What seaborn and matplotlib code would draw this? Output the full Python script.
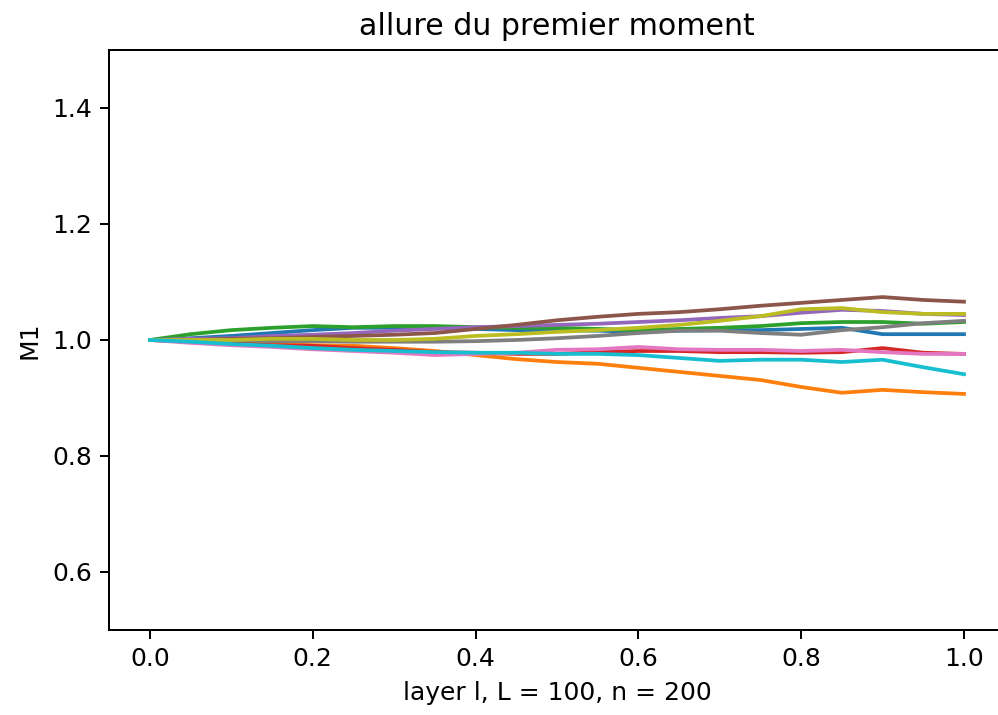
import numpy as np
import pandas as pd
import matplotlib
matplotlib.use("Agg")
import matplotlib.pyplot as plt
import seaborn as sns

# layer position l / L, read every 0.05
layer = [0.00, 0.05, 0.10, 0.15, 0.20, 0.25, 0.30, 0.35, 0.40, 0.45, 0.50,
         0.55, 0.60, 0.65, 0.70, 0.75, 0.80, 0.85, 0.90, 0.95, 1.00]

# first moment M1 for the 10 runs
m1_run0 = [1.000, 1.003, 1.007, 1.012, 1.017, 1.021, 1.021, 1.021, 1.019, 1.017, 1.017,
           1.016, 1.014, 1.016, 1.017, 1.017, 1.019, 1.021, 1.010, 1.010, 1.010]
m1_run1 = [1.000, 0.997, 0.995, 0.993, 0.991, 0.990, 0.986, 0.981, 0.974, 0.967, 0.962,
           0.959, 0.952, 0.945, 0.938, 0.931, 0.919, 0.909, 0.914, 0.910, 0.907]
m1_run2 = [1.000, 1.010, 1.017, 1.021, 1.024, 1.022, 1.024, 1.024, 1.022, 1.021, 1.021,
           1.019, 1.017, 1.019, 1.021, 1.024, 1.029, 1.031, 1.031, 1.028, 1.031]
m1_run3 = [1.000, 0.997, 0.995, 0.991, 0.990, 0.986, 0.983, 0.979, 0.978, 0.976, 0.976,
           0.979, 0.981, 0.981, 0.979, 0.979, 0.978, 0.979, 0.986, 0.978, 0.976]
m1_run4 = [1.000, 1.002, 1.003, 1.007, 1.009, 1.012, 1.016, 1.019, 1.022, 1.024, 1.026,
           1.028, 1.031, 1.034, 1.038, 1.041, 1.047, 1.052, 1.050, 1.045, 1.043]
m1_run5 = [1.000, 1.000, 1.002, 1.003, 1.005, 1.007, 1.009, 1.012, 1.019, 1.026, 1.034,
           1.040, 1.045, 1.048, 1.053, 1.059, 1.064, 1.069, 1.074, 1.069, 1.066]
m1_run6 = [1.000, 0.995, 0.991, 0.988, 0.984, 0.981, 0.978, 0.974, 0.976, 0.978, 0.983,
           0.984, 0.988, 0.984, 0.983, 0.983, 0.981, 0.983, 0.979, 0.976, 0.976]
m1_run7 = [1.000, 1.000, 1.000, 0.998, 0.998, 0.997, 0.997, 0.997, 0.998, 1.000, 1.003,
           1.007, 1.012, 1.016, 1.016, 1.012, 1.009, 1.017, 1.022, 1.029, 1.033]
m1_run8 = [1.000, 1.000, 1.000, 1.002, 1.002, 1.000, 1.000, 1.002, 1.007, 1.010, 1.014,
           1.017, 1.021, 1.026, 1.033, 1.041, 1.053, 1.055, 1.048, 1.045, 1.045]
m1_run9 = [1.000, 0.997, 0.993, 0.990, 0.986, 0.983, 0.981, 0.979, 0.978, 0.978, 0.976,
           0.976, 0.974, 0.969, 0.964, 0.966, 0.966, 0.962, 0.966, 0.953, 0.941]

runs = [m1_run0, m1_run1, m1_run2, m1_run3, m1_run4,
        m1_run5, m1_run6, m1_run7, m1_run8, m1_run9]

df = pd.concat(
    [pd.DataFrame({"l": layer, "M1": vals, "run": i}) for i, vals in enumerate(runs)],
    ignore_index=True,
)

# matplotlib default look, scaled up ~1.8x
s = 1.8
plt.rcParams.update({
    "font.family": ["DejaVu Sans"],
    "font.size": 10 * s,
    "lines.linewidth": 1.5 * s,
    "axes.linewidth": 0.8 * s,
    "axes.titlepad": 6 * s,
    "axes.labelpad": 4 * s,
    "xtick.major.size": 3.5 * s,
    "ytick.major.size": 3.5 * s,
    "xtick.major.width": 0.8 * s,
    "ytick.major.width": 0.8 * s,
    "xtick.major.pad": 3.5 * s,
    "ytick.major.pad": 3.5 * s,
})

fig = plt.figure(figsize=(9.98, 7.15), dpi=100)
# right edge of the axes runs past the picture, as in the cropped original
ax = fig.add_axes([0.1095, 0.1189, 0.8972, 0.8112])

sns.lineplot(data=df, x="l", y="M1", hue="run", palette="tab10",
             legend=False, ax=ax, estimator=None)

ax.set_xlim(-0.05, 1.05)
ax.set_ylim(0.5, 1.5)
ax.set_yticks([0.6, 0.8, 1.0, 1.2, 1.4])
ax.set_xticks([0.0, 0.2, 0.4, 0.6, 0.8, 1.0])
ax.spines["right"].set_visible(False)
ax.set_title("allure du premier moment")
ax.set_xlabel("layer l, L = 100, n = 200")
ax.set_ylabel("M1")

fig.savefig("out.png", dpi=100)
